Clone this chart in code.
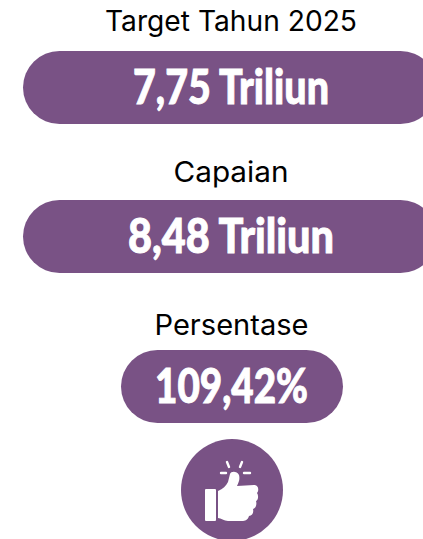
<!DOCTYPE html>
<html>
<head>
<meta charset="utf-8">
<script src="https://cdn.jsdelivr.net/npm/d3@7"></script>
<style>
  html, body { margin: 0; padding: 0; background: #fff; overflow: hidden; }
  svg { display: block; }
</style>
</head>
<body>
<div id="chart"></div>
<script>
const labels = ["Target Tahun 2025", "Capaian", "Persentase"];
const values = ["7,75 Triliun", "8,48 Triliun", "109,42%"];

const width = 423;
const height = 539;
const PURPLE = "#795285";

// one row per card: label baseline, pill box, width of the big text
const labelY = [31, 182, 335];
const pillTop = [51, 200, 350];
const pillLeft = [23, 23, 121];
const pillRight = [437, 437, 343];
const textCx = [231, 231, 231.5];
const textW = [196, 206, 153];
const labelW = [252, 115, 154];
const PILL_H = 73;

const rows = labels.map((d, i) => ({ label: d, value: values[i], i }));

const svg = d3
  .select("#chart")
  .append("svg")
  .attr("width", width)
  .attr("height", height)
  .attr("viewBox", `0 0 ${width} ${height}`);

svg
  .selectAll("text.label")
  .data(rows)
  .join("text")
  .attr("class", "label")
  .attr("x", (d) => textCx[d.i])
  .attr("y", (d) => labelY[d.i])
  .attr("text-anchor", "middle")
  .attr("textLength", (d) => labelW[d.i])
  .attr("lengthAdjust", "spacingAndGlyphs")
  .style("font-family", "Inter, sans-serif")
  .style("font-size", "28px")
  .style("fill", "#000")
  .text((d) => d.label);

svg
  .selectAll("rect.pill")
  .data(rows)
  .join("rect")
  .attr("class", "pill")
  .attr("x", (d) => pillLeft[d.i])
  .attr("y", (d) => pillTop[d.i])
  .attr("width", (d) => pillRight[d.i] - pillLeft[d.i])
  .attr("height", PILL_H)
  .attr("rx", PILL_H / 2)
  .attr("fill", PURPLE);

// big numbers, squeezed to look like an extra condensed face
svg
  .selectAll("text.value")
  .data(rows)
  .join("text")
  .attr("class", "value")
  .attr("x", (d) => textCx[d.i])
  .attr("y", (d) => pillTop[d.i] + 53)
  .attr("text-anchor", "middle")
  .attr("textLength", (d) => textW[d.i])
  .attr("lengthAdjust", "spacingAndGlyphs")
  .style("font-family", "Lato, sans-serif")
  .style("font-weight", 900)
  .style("font-size", "48px")
  .style("fill", "#fff")
  .style("stroke", "#fff")
  .style("stroke-width", 0.9)
  .text((d) => d.value);

// thumbs up badge
const badge = svg.append("g").attr("transform", "translate(232,490)");

badge.append("circle").attr("r", 51).attr("fill", PURPLE);

badge
  .append("rect")
  .attr("x", -27)
  .attr("y", -1)
  .attr("width", 11)
  .attr("height", 32)
  .attr("rx", 1)
  .attr("fill", "#fff");

badge
  .append("path")
  .attr(
    "d",
    "M-14,1 C-9,-1 -6,-4 -4,-8 L-2,-16 C-1,-19 5,-19 7,-15 C8,-11 7,-8 5,-4 L22,-5 C27,-5 27,1 25,3 C27,6 26,10 24,11 C25,14 24,18 21,19 C22,23 20,26 17,26 C16,30 13,31 10,31 L-4,31 C-8,31 -11,28 -14,28 Z"
  )
  .attr("fill", "#fff");

const sparks = [
  [-11, -17, -6, -17],
  [-5, -28, -3, -23],
  [10, -28, 8, -23],
  [12, -17, 18, -17],
];

badge
  .selectAll("line.spark")
  .data(sparks)
  .join("line")
  .attr("class", "spark")
  .attr("x1", (d) => d[0])
  .attr("y1", (d) => d[1])
  .attr("x2", (d) => d[2])
  .attr("y2", (d) => d[3])
  .attr("stroke", "#fff")
  .attr("stroke-width", 2.4)
  .attr("stroke-linecap", "round");
</script>
</body>
</html>
